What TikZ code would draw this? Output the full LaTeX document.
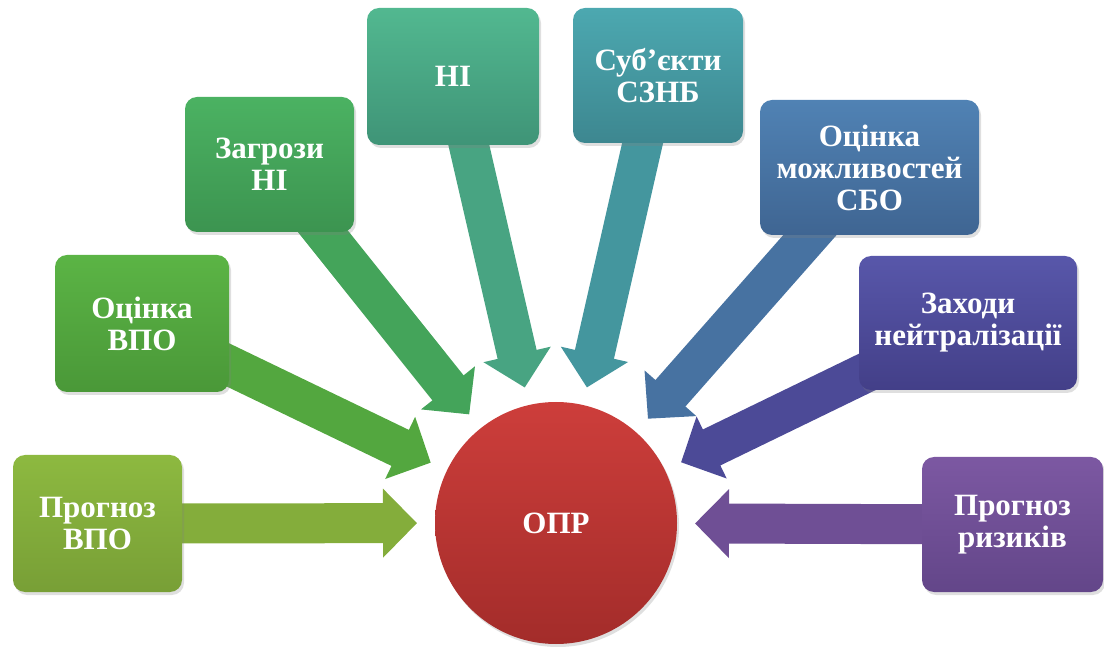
\documentclass[tikz,border=0pt]{standalone}
\usepackage{fontspec}
\setmainfont{Liberation Serif}
\usetikzlibrary{calc,arrows.meta,backgrounds,shadows}

\definecolor{gA}{HTML}{8DB940}
\definecolor{gAd}{HTML}{789F36}
\definecolor{gB}{HTML}{5BB445}
\definecolor{gBd}{HTML}{4A9838}
\definecolor{gC}{HTML}{4BB262}
\definecolor{gCd}{HTML}{3C9450}
\definecolor{gD}{HTML}{52B890}
\definecolor{gDd}{HTML}{3F9477}
\definecolor{gE}{HTML}{4CA8B0}
\definecolor{gEd}{HTML}{3D8790}
\definecolor{gF}{HTML}{5082B4}
\definecolor{gFd}{HTML}{3F6592}
\definecolor{gG}{HTML}{5857AA}
\definecolor{gGd}{HTML}{433F88}
\definecolor{gH}{HTML}{7C58A2}
\definecolor{gHd}{HTML}{634689}
\definecolor{oprTop}{HTML}{CD3E3B}
\definecolor{oprBot}{HTML}{A32C2A}

\begin{document}
\begin{tikzpicture}[x=1pt,y=1pt,
  box/.style={rounded corners=12pt, inner sep=0pt, align=center, text=white,
    font=\bfseries\fontsize{31}{32}\selectfont,
    drop shadow={shadow xshift=2pt, shadow yshift=-3pt, opacity=.25}},
  into/.style={line width=40pt, -{Triangle[length=34pt,width=67pt]}}]
\useasboundingbox (0,0) rectangle (1104,646);
\node[circle, minimum size=242pt, inner sep=0pt, top color=oprTop, bottom color=oprBot, text=white,
  font=\bfseries\fontsize{31}{32}\selectfont,
  drop shadow={shadow xshift=2pt, shadow yshift=-3pt, opacity=.25}] (opr) at (556,123) {ОПР};
\node[box, minimum width=169pt, minimum height=137pt, top color=gA, bottom color=gAd] (b1) at (97.5,122.5) {Прогноз\\ВПО};
\node[box, minimum width=174pt, minimum height=137pt, top color=gB, bottom color=gBd] (b2) at (142,322.5) {Оцінка\\ВПО};
\node[box, minimum width=169pt, minimum height=135pt, top color=gC, bottom color=gCd] (b3) at (269.5,481.5) {Загрози\\НІ};
\node[box, minimum width=172pt, minimum height=137pt, top color=gD, bottom color=gDd] (b4) at (453,569.5) {НІ};
\node[box, minimum width=170pt, minimum height=135pt, top color=gE, bottom color=gEd] (b5) at (658,570.5) {Суб’єкти\\СЗНБ};
\node[box, minimum width=219pt, minimum height=135pt, top color=gF, bottom color=gFd] (b6) at (869.5,478.5) {Оцінка\\можливостей\\СБО};
\node[box, minimum width=218pt, minimum height=134pt, top color=gG, bottom color=gGd] (b7) at (968,323) {Заходи\\нейтралізації};
\node[box, minimum width=181pt, minimum height=135pt, top color=gH, bottom color=gHd] (b8) at (1012.5,121.5) {Прогноз\\ризиків};
\begin{scope}[on background layer]
\draw[into, gA!55!gAd] (b1.center) -- ($(opr.center)!139pt!(b1.center)$);
\draw[into, gB!55!gBd] (b2.center) -- ($(opr.center)!139pt!(b2.center)$);
\draw[into, gC!55!gCd] (b3.center) -- ($(opr.center)!139pt!(b3.center)$);
\draw[into, gD!45!gDd] (b4.center) -- ($(opr.center)!139pt!(b4.center)$);
\draw[into, gE!45!gEd] (b5.center) -- ($(opr.center)!139pt!(b5.center)$);
\draw[into, gF!45!gFd] (b6.center) -- ($(opr.center)!139pt!(b6.center)$);
\draw[into, gG!45!gGd] (b7.center) -- ($(opr.center)!139pt!(b7.center)$);
\draw[into, gH!50!gHd] (b8.center) -- ($(opr.center)!139pt!(b8.center)$);
\end{scope}
\end{tikzpicture}
\end{document}
